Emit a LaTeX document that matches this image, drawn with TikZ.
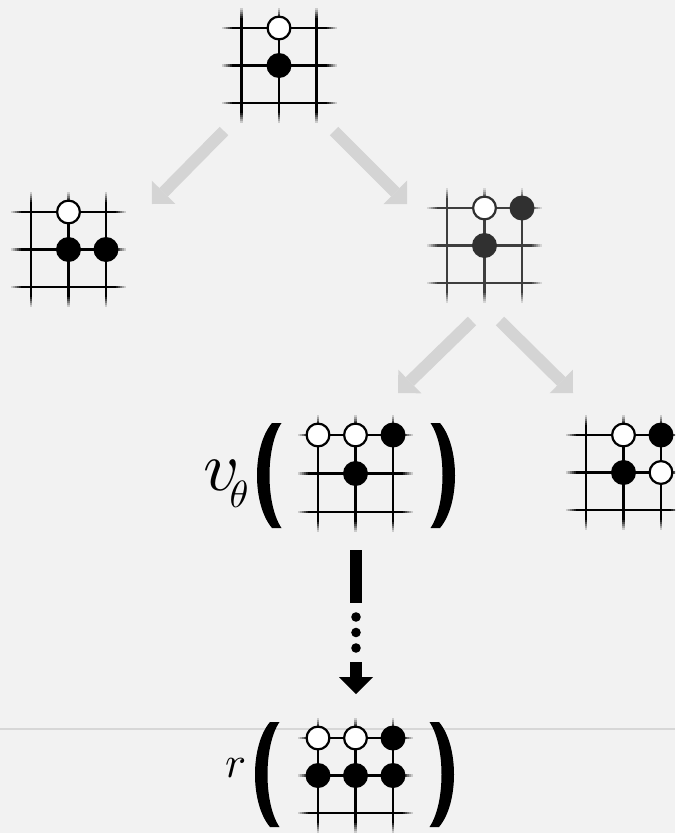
\documentclass[tikz,border=0pt]{standalone}
\usepackage{graphicx}
\usetikzlibrary{arrows.meta}

\definecolor{bg}{RGB}{242,242,242}
\definecolor{arrowgray}{RGB}{212,212,212}
\definecolor{rulegray}{RGB}{215,215,215}
\definecolor{boardgray}{RGB}{62,62,62}
\definecolor{stonegray}{RGB}{48,48,48}

% 3x3 go grid: #1,#2 top-left intersection, #3 line colour, #4 row pitch
\newcommand\goboard[4]{%
  \begin{scope}[shift={(#1,#2)},line width=2.9pt]
    \foreach \k in {0,1,2}{
      \pgfmathsetmacro\gx{\k*37.5}
      \pgfmathsetmacro\gy{\k*#4}
      \pgfmathsetmacro\gb{2*#4}
      % solid lines with a short overhang
      \draw[#3] (\gx,-10) -- (\gx,\gb+10);
      \draw[#3] (-10,\gy) -- (85,\gy);
      % overhang fading into the paper
      \foreach \a/\p in {10/85,12/68,14/50,16/32,18/16}{
        \draw[#3!\p!bg] (\gx,-\a) -- (\gx,-\a-2);
        \draw[#3!\p!bg] (\gx,\gb+\a) -- (\gx,\gb+\a+2);
        \draw[#3!\p!bg] (-\a,\gy) -- (-\a-2,\gy);
        \draw[#3!\p!bg] (75+\a,\gy) -- (77+\a,\gy);
      }
    }
  \end{scope}}

\tikzset{
  wstone/.style={circle,draw=black,fill=white,line width=2.2pt,minimum size=22.8pt,inner sep=0pt},
  bstone/.style={circle,fill=black,minimum size=25pt,inner sep=0pt},
  gwstone/.style={wstone,draw=stonegray},
  gbstone/.style={bstone,fill=stonegray},
  grayarrow/.style={draw=arrowgray,line width=12pt,
    -{Triangle[width=33pt,length=16.5pt,line width=0pt]}},
  paren/.pic={
    \fill (2.5,-52.5) .. controls (-17.5,-29) and (-17.5,29) .. (2.5,52.5)
      -- (12,52.5) .. controls (-4,29) and (-4,-29) .. (12,-52.5) -- cycle;
  }
}

\begin{document}
\begin{tikzpicture}[x=1pt,y=-1pt]
  \useasboundingbox (0,0) rectangle (675,833);
  \clip (0,0) rectangle (675,833);
  \fill[bg] (0,0) rectangle (675,833);

  % thin rule across the page
  \coordinate (ruleL) at (0,729);
  \coordinate (ruleR) at (675,729);
  \draw[rulegray,line width=2pt] (ruleL) -- (ruleR);

  % root position
  \goboard{241.5}{28}{black}{37.5}
  \node[wstone] (r-w1) at (279,28) {};
  \node[bstone] (r-b1) at (279,65.5) {};

  % left child
  \goboard{31}{212}{black}{37.5}
  \node[wstone] (l-w1) at (68.5,212) {};
  \node[bstone] (l-b1) at (68.5,249.5) {};
  \node[bstone] (l-b2) at (106,249.5) {};

  % right child
  \goboard{447}{208}{boardgray}{37.5}
  \node[gwstone] (m-w1) at (484.5,208) {};
  \node[gbstone] (m-b1) at (522,208) {};
  \node[gbstone] (m-b2) at (484.5,245.5) {};

  % evaluated leaf
  \goboard{318}{435}{black}{38.5}
  \node[wstone] (v-w1) at (318,435) {};
  \node[wstone] (v-w2) at (355.5,435) {};
  \node[bstone] (v-b1) at (393,435) {};
  \node[bstone] (v-b2) at (355.5,473.5) {};

  % sibling leaf
  \goboard{586}{435}{black}{37.5}
  \node[wstone] (s-w1) at (623.5,435) {};
  \node[bstone] (s-b1) at (661,435) {};
  \node[bstone] (s-b2) at (623.5,472.5) {};
  \node[wstone] (s-w2) at (661,472.5) {};

  % terminal position
  \goboard{318}{738}{black}{37.5}
  \node[wstone] (t-w1) at (318,738) {};
  \node[wstone] (t-w2) at (355.5,738) {};
  \node[bstone] (t-b1) at (393,738) {};
  \node[bstone] (t-b2) at (318,775.5) {};
  \node[bstone] (t-b3) at (355.5,775.5) {};
  \node[bstone] (t-b4) at (393,775.5) {};

  % tree edges
  \coordinate (e1s) at (224,131);  \coordinate (e1e) at (152,204);
  \coordinate (e2s) at (334,131);  \coordinate (e2e) at (407,204);
  \coordinate (e3s) at (472,321);  \coordinate (e3e) at (398,393);
  \coordinate (e4s) at (500,321);  \coordinate (e4e) at (573,393);
  \draw[grayarrow] (e1s) -- (e1e);
  \draw[grayarrow] (e2s) -- (e2e);
  \draw[grayarrow] (e3s) -- (e3e);
  \draw[grayarrow] (e4s) -- (e4e);

  % value network label
  \node[anchor=base west,inner sep=0pt] (vlabel) at (203,490)
    {\scalebox{7.0}{$v$}\hspace{-10pt}\raisebox{-17pt}{\scalebox{3.8}{$\theta$}}};
  \pic at (269.5,475.5) {paren};
  \pic[xscale=-1] at (442.5,475.5) {paren};

  % rollout arrow
  \coordinate (ro-top) at (356,550);
  \coordinate (ro-bar) at (356,603);
  \coordinate (ro-tip0) at (356,662);
  \coordinate (ro-tip) at (356,694);
  \draw[line width=12pt] (ro-top) -- (ro-bar);
  \foreach \yy in {617,632.5,648}
    \fill (356,\yy) circle (4.8);
  \draw[line width=12pt,-{Triangle[width=34pt,length=17pt,line width=0pt]}] (ro-tip0) -- (ro-tip);

  % reward label
  \node[anchor=base west,inner sep=0pt] (rlabel) at (225,777)
    {\scalebox{4.4}{$r$}};
  \pic at (267.5,774.5) {paren};
  \pic[xscale=-1] at (441.5,774.5) {paren};
\end{tikzpicture}
\end{document}
